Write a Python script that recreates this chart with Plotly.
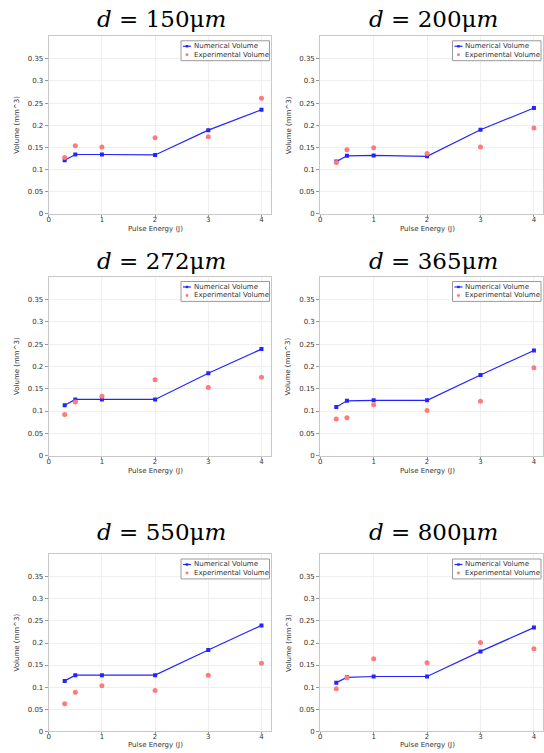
import plotly.graph_objects as go

# ---------------- data ----------------
energy = [0.3, 0.5, 1, 2, 3, 4]
diameters = ["150", "200", "272", "365", "550", "800"]

num_150 = [0.121, 0.134, 0.134, 0.133, 0.189, 0.235]
exp_150 = [0.127, 0.154, 0.151, 0.172, 0.174, 0.261]

num_200 = [0.118, 0.131, 0.132, 0.130, 0.190, 0.239]
exp_200 = [0.116, 0.145, 0.149, 0.136, 0.151, 0.194]

num_272 = [0.113, 0.126, 0.126, 0.126, 0.185, 0.239]
exp_272 = [0.092, 0.120, 0.133, 0.170, 0.153, 0.176]

num_365 = [0.109, 0.123, 0.124, 0.124, 0.181, 0.236]
exp_365 = [0.082, 0.085, 0.114, 0.101, 0.122, 0.197]

num_550 = [0.114, 0.127, 0.127, 0.127, 0.184, 0.240]
exp_550 = [0.062, 0.088, 0.103, 0.092, 0.127, 0.154]

num_800 = [0.110, 0.122, 0.124, 0.124, 0.181, 0.235]
exp_800 = [0.096, 0.121, 0.164, 0.155, 0.201, 0.187]

numerical = [num_150, num_200, num_272, num_365, num_550, num_800]
experimental = [exp_150, exp_200, exp_272, exp_365, exp_550, exp_800]

x_ticks = [0, 1, 2, 3, 4]
y_ticks = [0, 0.05, 0.1, 0.15, 0.2, 0.25, 0.3, 0.35]
y_tick_text = ["0", "0.05", "0.1", "0.15", "0.2", "0.25", "0.3", "0.35"]

# ---------------- layout geometry (pixels) ----------------
W, H = 544, 753
col_px = [(47, 270), (320, 545)]          # plot left/right
row_px = [(36, 215), (278, 458), (557, 735)]  # plot top/bottom
title_y_px = [19, 262, 535]

BLUE = "#2424ff"
RED = "#ff7a7a"
TICKFONT = dict(family="DejaVu Sans", size=7, color="#333333")


def px_x(v):
    return v / W


def px_y(v):
    return 1 - v / H


fig = go.Figure()
layout = dict(
    width=W, height=H,
    margin=dict(l=0, r=0, t=0, b=0),
    paper_bgcolor="white", plot_bgcolor="white",
    showlegend=False,
)
annotations = []
shapes = []

for i in range(6):
    r, c = divmod(i, 2)
    xl, xr = col_px[c]
    yt, yb = row_px[r]
    xa = "xaxis" if i == 0 else f"xaxis{i+1}"
    ya = "yaxis" if i == 0 else f"yaxis{i+1}"
    xref = "x" if i == 0 else f"x{i+1}"
    yref = "y" if i == 0 else f"y{i+1}"
    xr_vis = min(xr, W)

    layout[xa] = dict(
        domain=[px_x(xl), min(1.0, px_x(xr))], range=[0, 4.17], anchor=yref,
        tickvals=x_ticks, ticktext=[str(t) for t in x_ticks],
        showgrid=True, gridcolor="#eeeeee", gridwidth=1,
        showline=True, linecolor="#c8c8c8", linewidth=1, mirror=True,
        ticks="outside", ticklen=2, tickcolor="#999999",
        ticklabelstandoff=-3,
        tickfont=TICKFONT, zeroline=False, fixedrange=True,
    )
    layout[ya] = dict(
        domain=[px_y(yb), px_y(yt)], range=[0, 0.402], anchor=xref,
        tickvals=y_ticks, ticktext=y_tick_text,
        showgrid=True, gridcolor="#eeeeee", gridwidth=1,
        showline=True, linecolor="#c8c8c8", linewidth=1, mirror=True,
        ticks="outside", ticklen=3, tickcolor="#999999",
        tickfont=TICKFONT, zeroline=False, fixedrange=True,
    )

    fig.add_trace(go.Scatter(
        x=energy, y=numerical[i], mode="lines+markers", name="Numerical Volume",
        line=dict(color=BLUE, width=1.2),
        marker=dict(color=BLUE, size=4, symbol="square"),
        xaxis=xref, yaxis=yref,
    ))
    fig.add_trace(go.Scatter(
        x=energy, y=experimental[i], mode="markers", name="Experimental Volume",
        marker=dict(color=RED, size=5, symbol="circle"),
        xaxis=xref, yaxis=yref,
    ))

    # subplot title
    cx = (xl + xr_vis) / 2 + 2
    annotations.append(dict(
        x=px_x(cx), y=px_y(title_y_px[r]), xref="paper", yref="paper",
        text=f"<i>d</i> = {diameters[i]}μ<i>m</i>", showarrow=False,
        xanchor="center", yanchor="middle",
        font=dict(family="DejaVu Serif", size=23, color="black"),
    ))
    # y axis title
    annotations.append(dict(
        x=px_x(xl - 32), y=px_y((yt + yb) / 2), xref="paper", yref="paper",
        text="Volume (mm^3)", showarrow=False, textangle=-90,
        xanchor="center", yanchor="middle",
        font=dict(family="DejaVu Sans", size=7, color="#333333"),
    ))
    # x axis title
    annotations.append(dict(
        x=px_x(xl + 2 * (xr_vis - xl) / 4.17), y=px_y(min(yb + 15.5, 748.5)),
        xref="paper", yref="paper",
        text="Pulse Energy (J)", showarrow=False,
        xanchor="center", yanchor="middle",
        font=dict(family="DejaVu Sans", size=7, color="#333333"),
    ))

    # legend box (drawn)
    bx1 = xr_vis - 2 if c == 1 else xr - 1
    bx0 = bx1 - 89
    by0 = yt + 5
    by1 = by0 + 20
    shapes.append(dict(type="rect", xref="paper", yref="paper",
                       x0=px_x(bx0), x1=px_x(bx1), y0=px_y(by0), y1=px_y(by1),
                       line=dict(color="#9a9a9a", width=1), fillcolor="white", layer="above"))
    e1 = by0 + 5.5
    e2 = by0 + 14
    shapes.append(dict(type="line", xref="paper", yref="paper",
                       x0=px_x(bx0 + 2), x1=px_x(bx0 + 10), y0=px_y(e1), y1=px_y(e1),
                       line=dict(color=BLUE, width=1.2), layer="above"))
    shapes.append(dict(type="rect", xref="paper", yref="paper",
                       x0=px_x(bx0 + 4.8), x1=px_x(bx0 + 7.2), y0=px_y(e1 - 1.2), y1=px_y(e1 + 1.2),
                       line=dict(width=0), fillcolor=BLUE, layer="above"))
    shapes.append(dict(type="circle", xref="paper", yref="paper",
                       x0=px_x(bx0 + 4.5), x1=px_x(bx0 + 7.5), y0=px_y(e2 - 1.5), y1=px_y(e2 + 1.5),
                       line=dict(width=0), fillcolor=RED, layer="above"))
    annotations.append(dict(
        x=px_x(bx0 + 11), y=px_y(e1), xref="paper", yref="paper",
        text="Numerical Volume", showarrow=False, xanchor="left", yanchor="middle",
        font=dict(family="DejaVu Sans", size=7, color="#333333"),
    ))
    annotations.append(dict(
        x=px_x(bx0 + 11), y=px_y(e2), xref="paper", yref="paper",
        text="Experimental Volume", showarrow=False, xanchor="left", yanchor="middle",
        font=dict(family="DejaVu Sans", size=7, color="#333333"),
    ))

layout["annotations"] = annotations
layout["shapes"] = shapes
fig.update_layout(**layout)
fig.write_html(
    "out.html",
    config={"displayModeBar": False},
    post_script="document.body.style.margin='0px';document.body.style.overflow='hidden';",
)
